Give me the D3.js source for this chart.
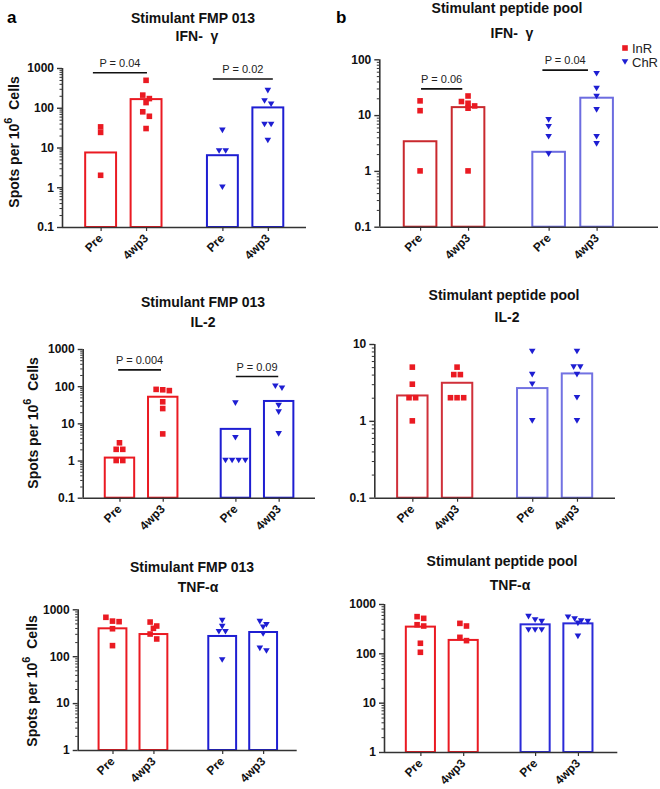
<!DOCTYPE html>
<html><head><meta charset="utf-8">
<script src="https://cdn.jsdelivr.net/npm/d3@7"></script>
<style>
body{margin:0;background:#fff}
text{font-family:"Liberation Sans",Arial,Helvetica,sans-serif}
</style>
</head><body>
<svg id="chart" width="660" height="789"></svg>
<script>
// ---------------- DATA ----------------
const categories = ["Pre", "4wp3", "Pre", "4wp3"];
const categoryPos = [0, 1, 2.68, 3.68];
const categorySeries = ["InR", "InR", "ChR", "ChR"];
const seriesNames = ["InR", "ChR"];

const panelTitles = ["Stimulant FMP 013", "Stimulant peptide pool", "Stimulant FMP 013", "Stimulant peptide pool", "Stimulant FMP 013", "Stimulant peptide pool"];
const panelSubtitles = ["IFN-\u00a0 \u03b3", "IFN-\u00a0 \u03b3", "IL-2", "IL-2", "TNF-\u03b1", "TNF-\u03b1"];
const panelLetters = ["a", "b"];

// IFN-gamma, FMP 013
const ifnFmpBars = [7.5, 165, 6.4, 102];
const ifnFmpPoints = [[33, 24, 2], [490, 208, 170, 135, 79, 61, 30], [27, 8.2, 8.2, 1], [270, 148, 123, 38, 38, 15]];
const ifnFmpP = ["P = 0.04", "P = 0.02"];
// IFN-gamma, peptide pool
const ifnPepBars = [3.4, 13.9, 2.2, 20.5];
const ifnPepPoints = [[18, 12, 1], [22, 17.5, 16.3, 14.6, 13.3, 1], [8.2, 6.2, 4.1, 2.0], [55, 30, 21.5, 12.4, 4.1, 3.05]];
const ifnPepP = ["P = 0.06", "P = 0.04"];
// IL-2, FMP 013
const il2FmpBars = [1.2, 52, 7.1, 40];
const il2FmpPoints = [[3, 2, 2, 1, 1], [82, 80, 76, 38, 25, 5.2], [35, 4.1, 1, 1, 1, 1], [100, 88, 30, 20, 5.2]];
const il2FmpP = ["P = 0.004", "P = 0.09"];
// IL-2, peptide pool
const il2PepBars = [2.14, 3.13, 2.67, 4.14];
const il2PepPoints = [[5, 3, 2, 2, 1], [5, 4, 4, 2, 2, 2], [8, 4, 3, 1], [8, 5, 5, 4, 2, 1]];
// TNF-alpha, FMP 013
const tnfFmpBars = [393, 297, 270, 328];
const tnfFmpPoints = [[675, 545, 560, 385, 168], [535, 440, 393, 297, 233], [573, 427, 333, 333, 83], [545, 470, 413, 297, 147, 129]];
// TNF-alpha, peptide pool
const tnfPepBars = [348, 187, 387, 405];
const tnfPepPoints = [[554, 512, 380, 358, 160, 105], [405, 358, 211, 181], [554, 474, 439, 297, 297, 297], [537, 497, 452, 439, 405, 221]];

const ticksTo1000 = [0.1, 1, 10, 100, 1000];
const tickLabelsTo1000 = ["0.1", "1", "10", "100", "1000"];
const ticksTo100 = [0.1, 1, 10, 100];
const tickLabelsTo100 = ["0.1", "1", "10", "100"];
const ticksTo10 = [0.1, 1, 10];
const tickLabelsTo10 = ["0.1", "1", "10"];
const ticks1To1000 = [1, 10, 100, 1000];
const tickLabels1To1000 = ["1", "10", "100", "1000"];

// ---------------- STYLE / LAYOUT ----------------
const RED = "#ea1a22", BLUE = "#1e1ed2";
const pointColor = {InR: RED, ChR: BLUE};

const panels = [
  {bars: ifnFmpBars, points: ifnFmpPoints, ticks: ticksTo1000, tickLabels: tickLabelsTo1000,
   left: 62, right: 306, top: 68, bottom: 227, xMax: 4.52,
   title: 0, titleX: 193, titleY: 23, subX: 197, subY: 41,
   barColors: [RED, RED, BLUE, BLUE], yLabel: {x: 19, y: 142},
   pvals: ifnFmpP, brackets: [{x0: -0.17, x1: 1.02, v: 760}, {x0: 2.47, x1: 3.79, v: 530}]},
  {bars: ifnPepBars, points: ifnPepPoints, ticks: ticksTo100, tickLabels: tickLabelsTo100,
   left: 379.3, right: 658, top: 59.3, bottom: 226.7, xMax: 4.96,
   title: 1, titleX: 507, titleY: 13, subX: 512, subY: 38,
   barColors: ["#c9292e", "#c9292e", "#6c6ce0", "#6c6ce0"],
   pvals: ifnPepP, brackets: [{x0: 0.02, x1: 0.88, v: 29.5}, {x0: 2.55, x1: 3.5, v: 64}], legend: true},
  {bars: il2FmpBars, points: il2FmpPoints, ticks: ticksTo1000, tickLabels: tickLabelsTo1000,
   left: 82.7, right: 315, top: 349, bottom: 497.7, xMax: 4.52,
   title: 2, titleX: 203, titleY: 306.5, subX: 203, subY: 326.5,
   barColors: [RED, RED, BLUE, BLUE], yLabel: {x: 38, y: 423},
   pvals: il2FmpP, brackets: [{x0: -0.03, x1: 0.96, v: 274}, {x0: 2.69, x1: 3.67, v: 182}]},
  {bars: il2PepBars, points: il2PepPoints, ticks: ticksTo10, tickLabels: tickLabelsTo10,
   left: 374.3, right: 615, top: 344, bottom: 497.7, xMax: 4.53,
   title: 3, titleX: 504, titleY: 300, subX: 507, subY: 321.5,
   barColors: ["#d0303a", "#d0303a", "#7272e2", "#7272e2"]},
  {bars: tnfFmpBars, points: tnfFmpPoints, ticks: ticks1To1000, tickLabels: tickLabels1To1000,
   left: 77.7, right: 296.7, top: 609.3, bottom: 750, xMax: 4.5,
   title: 4, titleX: 192, titleY: 571.5, subX: 198, subY: 591.5,
   barColors: [RED, RED, BLUE, BLUE], yLabel: {x: 37, y: 681}},
  {bars: tnfPepBars, points: tnfPepPoints, ticks: ticks1To1000, tickLabels: tickLabels1To1000,
   left: 384, right: 617.3, top: 604, bottom: 752, xMax: 4.6,
   title: 5, titleX: 502, titleY: 565.5, subX: 510, subY: 590,
   barColors: [RED, RED, "#2a2ad8", "#2a2ad8"]}
];

const svg = d3.select("#chart");

function markerPath(series, cx, cy) {
  if (series === "InR") {
    const s = 5.6;
    return `M${cx - s / 2},${cy - s / 2}h${s}v${s}h${-s}Z`;
  }
  const w = 6.6, h = 5.6;
  return `M${cx - w / 2},${cy - h / 2}L${cx + w / 2},${cy - h / 2}L${cx},${cy + h / 2}Z`;
}

function swarm(vals, y, spacing, thresh) {
  const pts = vals.map(v => ({v, py: y(v)})).sort((a, b) => a.py - b.py);
  const clusters = [];
  let cur = null;
  for (const p of pts) {
    if (cur && Math.abs(p.py - cur[0].py) < thresh) cur.push(p);
    else { cur = [p]; clusters.push(cur); }
  }
  clusters.forEach(c => c.forEach((p, i) => p.dx = (i - (c.length - 1) / 2) * spacing));
  return pts;
}

panels.forEach(p => {
  const g = svg.append("g");
  const x = d3.scaleLinear().domain([-0.85, p.xMax]).range([p.left, p.right]);
  const ticks = p.ticks;
  const y = d3.scaleLog().domain([ticks[0], ticks[ticks.length - 1]]).range([p.bottom, p.top]);
  const unit = x(1) - x(0);
  const bw = unit * 0.68;

  // bars
  g.selectAll("rect.bar").data(p.bars).join("rect")
    .attr("x", (d, i) => x(categoryPos[i]) - bw / 2)
    .attr("y", d => y(d))
    .attr("width", bw)
    .attr("height", d => p.bottom - y(d))
    .attr("fill", "none")
    .attr("stroke", (d, i) => p.barColors[i])
    .attr("stroke-width", 2);

  // points
  p.points.forEach((vals, i) => {
    const pts = swarm(vals, y, 6.6, 5);
    g.selectAll(null).data(pts).join("path")
      .attr("d", d => markerPath(categorySeries[i], x(categoryPos[i]) + d.dx, d.py))
      .attr("fill", pointColor[categorySeries[i]]);
  });

  // y axis
  const minor = [];
  for (let k = 0; k < ticks.length - 1; k++)
    for (let m = 2; m <= 9; m++) minor.push(ticks[k] * m);
  const yAxisMinor = d3.axisLeft(y).tickValues(minor).tickSize(2.5).tickFormat("");
  const yAxis = d3.axisLeft(y).tickValues(ticks).tickSize(5).tickPadding(3)
    .tickFormat((d, i) => p.tickLabels[i]);
  const ga = g.append("g").attr("transform", `translate(${p.left},0)`);
  ga.call(yAxisMinor);
  ga.select(".domain").remove();
  ga.selectAll("line").attr("stroke", "#333").attr("stroke-width", 1);
  const gm = g.append("g").attr("transform", `translate(${p.left},0)`).call(yAxis);
  gm.select(".domain").attr("stroke", "#333").attr("stroke-width", 1.6).attr("d", `M0.5,${p.top}V${p.bottom}`);
  gm.selectAll("line").attr("stroke", "#333").attr("stroke-width", 1.4);
  gm.selectAll("text").attr("font-size", 12).attr("font-weight", "bold").attr("fill", "#111")
    .attr("font-family", "Liberation Sans, Arial, sans-serif");

  // x axis
  const xAxis = d3.axisBottom(x).tickValues(categoryPos).tickSize(4).tickFormat("");
  const gx = g.append("g").attr("transform", `translate(0,${p.bottom})`).call(xAxis);
  gx.select(".domain").attr("stroke", "#333").attr("stroke-width", 1.6).attr("d", `M${p.left},0.5H${p.right}`);
  gx.selectAll("line").attr("stroke", "#333").attr("stroke-width", 1.2);
  g.selectAll("text.xl").data(categories).join("text")
    .attr("class", "xl")
    .attr("transform", (d, i) => `translate(${x(categoryPos[i]) + 3},${p.bottom + 12}) rotate(-45)`)
    .attr("text-anchor", "end")
    .attr("font-size", 12).attr("font-weight", "bold").attr("fill", "#111")
    .text(d => d);

  // titles
  g.append("text").attr("x", p.titleX).attr("y", p.titleY).attr("text-anchor", "middle")
    .attr("font-size", 14).attr("font-weight", "bold").attr("fill", "#111").text(panelTitles[p.title]);
  g.append("text").attr("x", p.subX).attr("y", p.subY).attr("text-anchor", "middle")
    .attr("font-size", 14).attr("font-weight", "bold").attr("fill", "#111").text(panelSubtitles[p.title]);

  // y label
  if (p.yLabel) {
    const t = g.append("text")
      .attr("transform", `translate(${p.yLabel.x},${p.yLabel.y}) rotate(-90)`)
      .attr("text-anchor", "middle").attr("font-size", 14).attr("font-weight", "bold").attr("fill", "#111");
    t.append("tspan").text("Spots per 10");
    t.append("tspan").attr("dy", -7).attr("font-size", 11).text("6");
    t.append("tspan").attr("dy", 7).text("\u00a0\u00a0Cells");
  }

  // p-value brackets
  if (p.brackets) {
    p.brackets.forEach((b, i) => {
      const yy = y(b.v);
      g.append("line").attr("x1", x(b.x0)).attr("x2", x(b.x1)).attr("y1", yy).attr("y2", yy)
        .attr("stroke", "#111").attr("stroke-width", 1.6);
      g.append("text").attr("x", (x(b.x0) + x(b.x1)) / 2).attr("y", yy - 6)
        .attr("text-anchor", "middle").attr("font-size", 11).attr("fill", "#222").text(p.pvals[i]);
    });
  }

  // legend
  if (p.legend) {
    seriesNames.forEach((s, i) => {
      const ly = 48 + i * 14;
      g.append("path").attr("d", markerPath(s, 625, ly)).attr("fill", pointColor[s]);
      g.append("text").attr("x", 632).attr("y", ly + 4.5).attr("font-size", 13).attr("fill", "#222").text(s);
    });
  }
});

// panel letters
svg.append("text").attr("x", 7).attr("y", 23).attr("font-size", 17).attr("font-weight", "bold").text(panelLetters[0]);
svg.append("text").attr("x", 336).attr("y", 23).attr("font-size", 17).attr("font-weight", "bold").text(panelLetters[1]);
</script>
</body></html>
